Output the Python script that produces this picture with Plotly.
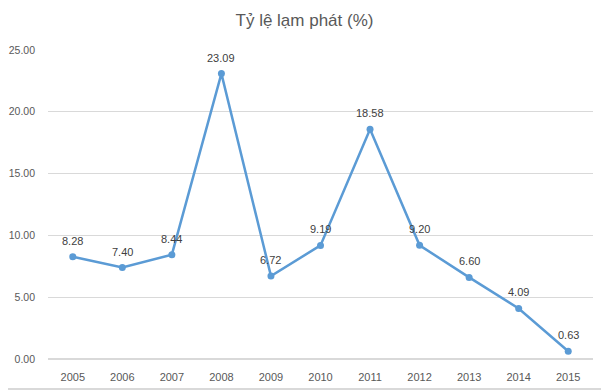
import plotly.graph_objects as go

years = ["2005", "2006", "2007", "2008", "2009", "2010", "2011", "2012", "2013", "2014", "2015"]
inflation = [8.28, 7.40, 8.44, 23.09, 6.72, 9.19, 18.58, 9.20, 6.60, 4.09, 0.63]
y_ticks = [0, 5, 10, 15, 20, 25]

W, H = 609, 390
OFF = 8  # page body margin
pw, ph = 545, 309
ml, mt = 48 - OFF, 50 - OFF
mr = W - ml - pw
mb = H - mt - ph

FONT = "Liberation Sans, Arial"

fig = go.Figure()
fig.add_trace(go.Scatter(
    x=years, y=inflation,
    mode="lines+markers",
    line=dict(color="#5B9BD5", width=2.5),
    marker=dict(color="#5B9BD5", size=7),
    hoverinfo="x+y",
))

# category axis: annotation x given as category index
annotations = [
    dict(x=i, y=v, xref="x", yref="y", text=f"{v:.2f}", showarrow=False,
         yshift=16, font=dict(family=FONT, size=11, color="#404040"))
    for i, v in enumerate(inflation)
]

# border (right and bottom edges visible within the page)
bx1 = (W - OFF - 1 - ml) / pw
by0 = -(H - OFF - 1 - mt - ph) / ph
shapes = [
    dict(type="line", xref="paper", yref="paper", x0=bx1, x1=bx1, y0=by0, y1=1 + mt / ph,
         line=dict(color="#D9D9D9", width=2)),
    dict(type="line", xref="paper", yref="paper", x0=-ml / pw, x1=bx1, y0=by0, y1=by0,
         line=dict(color="#D9D9D9", width=2)),
]

fig.update_layout(
    width=W, height=H,
    margin=dict(l=ml, r=mr, t=mt, b=mb, autoexpand=False),
    paper_bgcolor="white", plot_bgcolor="white",
    showlegend=False,
    title=dict(text="Tỷ lệ lạm phát (%)", x=(W / 2 - OFF) / W, xanchor="center",
               y=1 - (20 - OFF) / H, yanchor="middle",
               font=dict(family=FONT, size=17, color="#595959")),
    xaxis=dict(type="category", showgrid=False, showline=False, ticks="",
               ticklabelstandoff=10, automargin=False,
               tickfont=dict(family=FONT, size=11, color="#595959"),
               range=[-0.5, 10.5]),
    yaxis=dict(range=[0, 25], tickvals=y_ticks, tickformat=".2f",
               showgrid=True, gridcolor="#D9D9D9", gridwidth=1, zeroline=True, zerolinecolor="#D9D9D9",
               showline=False, ticks="", ticklabelstandoff=12, automargin=False,
               tickfont=dict(family=FONT, size=10.5, color="#595959")),
    annotations=annotations,
    shapes=shapes,
)

fig.write_html("out.html")
